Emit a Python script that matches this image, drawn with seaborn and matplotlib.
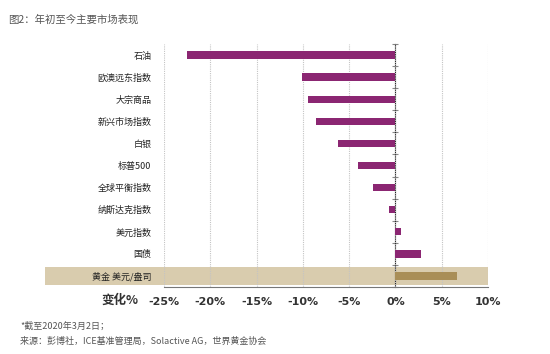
import numpy as np
import matplotlib
matplotlib.use('Agg')
from matplotlib import pyplot as plt
from matplotlib.patches import Rectangle
import seaborn as sns

# data (% change year to date)
cats = ['石油', '欧澳远东指数', '大宗商品', '新兴市场指数', '白银', '标普500',
        '全球平衡指数', '纳斯达克指数', '美元指数', '国债', '黄金 美元/盎司']
vals = [-22.5, -10.1, -9.4, -8.6, -6.2, -4.0, -2.4, -0.65, 0.6, 2.8, 6.6]
xticks = [-25, -20, -15, -10, -5, 0, 5, 10]
xlabels = ['-25%', '-20%', '-15%', '-10%', '-5%', '0%', '5%', '10%']

purple = '#8B2672'
gold = '#A98E57'
band = '#D9CCAE'
colors = [gold if c.startswith('黄金') else purple for c in cats]

sns.set_style('white')
plt.rcParams['font.family'] = ['Noto Sans CJK SC', 'DejaVu Sans']

fig = plt.figure(figsize=(5.5, 3.54), dpi=100)
ax = fig.add_axes([164/550, 1-287/354, 324/550, 243/354])

sns.barplot(x=vals, y=cats, hue=cats, palette=colors, legend=False,
            orient='h', width=0.33, linewidth=0, saturation=1, ax=ax, zorder=3)

ax.set_xlim(-25, 10)
ax.set_ylim(len(cats) - 0.5, -0.5)

# highlight band behind the gold row, reaching into the label area
gi = len(cats) - 1
ax.add_patch(Rectangle((-0.367, gi - 0.41), 1.367, 0.82, transform=ax.get_yaxis_transform(),
                       facecolor=band, edgecolor='none', clip_on=False, zorder=0))

ax.set_xticks(xticks)
ax.set_xticklabels(xlabels, fontsize=8, color='#333333', fontweight='bold', family='DejaVu Sans')
ax.tick_params(axis='x', direction='in', length=4, color='#888888', pad=7)
ax.tick_params(axis='y', length=0, pad=9, labelsize=6.5, labelcolor='#222222')
ax.set_xlabel('')
ax.set_ylabel('')

for x in xticks:
    ax.axvline(x, color='#c4c4c4', lw=0.8, ls=(0, (1, 1)), zorder=1)

for s in ['top', 'right', 'left']:
    ax.spines[s].set_visible(False)
ax.spines['bottom'].set_color('#777777')
ax.spines['bottom'].set_linewidth(0.8)

# zero line with small ticks at row boundaries
zero = ax.secondary_yaxis(25/35)
zero.spines['left'].set_color('#888888')
zero.spines['left'].set_linewidth(0.8)
zero.set_yticks(np.arange(-0.5, len(cats), 1.0))
zero.set_yticklabels([])
zero.tick_params(direction='inout', length=4, color='#888888')

fig.text(120/550, 1-300/354, '变化%', fontsize=9, fontweight='bold', style='italic',
         ha='center', va='center', color='#333333')
fig.text(8/550, 1-20/354, '图2：年初至今主要市场表现', fontsize=7.5, color='#555555',
         ha='left', va='center')
fig.text(20/550, 1-326/354, '*截至2020年3月2日；', fontsize=6.5, style='italic',
         color='#555555', ha='left', va='center')
fig.text(20/550, 1-341/354, '来源：彭博社，ICE基准管理局，Solactive AG，世界黄金协会', fontsize=6.5,
         style='italic', color='#555555', ha='left', va='center')

fig.savefig('out.png', dpi=100)
